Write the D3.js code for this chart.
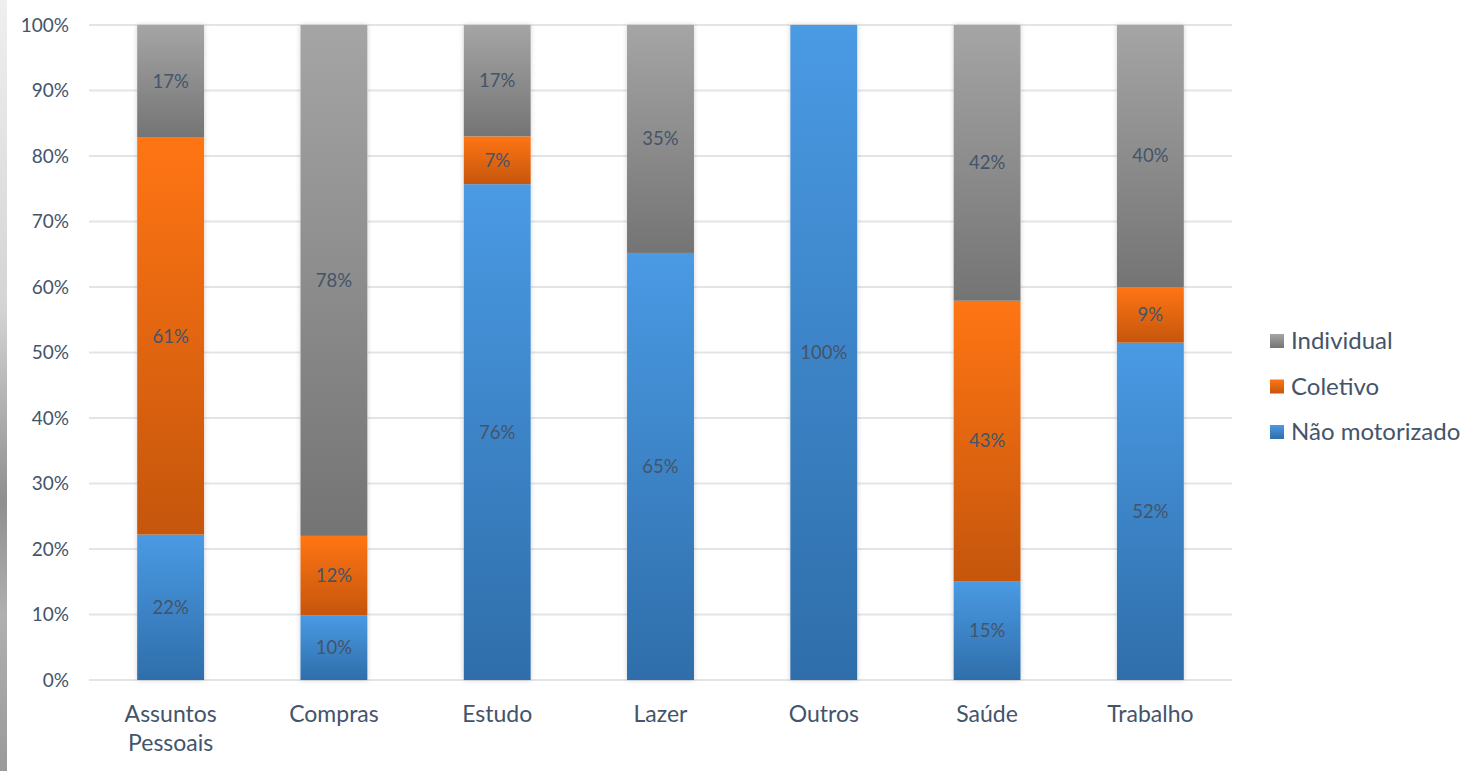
<!DOCTYPE html>
<html>
<head>
<meta charset="utf-8">
<script src="https://cdn.jsdelivr.net/npm/d3@7"></script>
<style>
  body { margin: 0; background: #fff; overflow: hidden; }
  text { font-family: Lato, "Open Sans", sans-serif; fill: #44546a; }
  .axis path { display: none; }
  .axis line { display: none; }
  .grid line { stroke: #e1e5ea; stroke-width: 2; }
</style>
</head>
<body>
<svg id="chart"></svg>
<script>
var categories = ["Assuntos Pessoais", "Compras", "Estudo", "Lazer", "Outros", "Saúde", "Trabalho"]
var naoMotorizado = [22.2, 9.9, 75.7, 65.2, 100, 15.1, 51.5]
var coletivo = [60.6, 12.1, 7.3, 0, 0, 42.8, 8.5]
var individual = [17.2, 78.0, 17.0, 34.8, 0, 42.1, 40.0]
var yTicks = [0, 10, 20, 30, 40, 50, 60, 70, 80, 90, 100]

var series = [
  { key: "nao", name: "Não motorizado", values: naoMotorizado, top: "#4a9ae4", bottom: "#2f6eaa" },
  { key: "col", name: "Coletivo", values: coletivo, top: "#ff7514", bottom: "#c5560c" },
  { key: "ind", name: "Individual", values: individual, top: "#a5a5a5", bottom: "#747474" }
]

var width = 1484
var height = 771
var margin = { top: 25, right: 252, bottom: 91, left: 89 }
var plotW = width - margin.left - margin.right
var plotH = height - margin.top - margin.bottom

var svg = d3.select("#chart")
  .attr("width", width)
  .attr("height", height)

var defs = svg.append("defs")

// strip of the photo behind the slide, on the left
var strip = defs.append("linearGradient")
  .attr("id", "strip").attr("x1", 0).attr("y1", 0).attr("x2", 0).attr("y2", 1)
strip.append("stop").attr("offset", "0%").attr("stop-color", "#efefef")
strip.append("stop").attr("offset", "40%").attr("stop-color", "#d4d4d4")
strip.append("stop").attr("offset", "65%").attr("stop-color", "#8f8f8f")
strip.append("stop").attr("offset", "80%").attr("stop-color", "#b0b0b0")
strip.append("stop").attr("offset", "100%").attr("stop-color", "#9a9a9a")
svg.append("rect").attr("width", 7).attr("height", height).attr("fill", "url(#strip)")

series.forEach(function(s) {
  var g = defs.append("linearGradient")
    .attr("id", "grad-" + s.key)
    .attr("x1", 0).attr("y1", 0).attr("x2", 0).attr("y2", 1)
  g.append("stop").attr("offset", "0%").attr("stop-color", s.top)
  g.append("stop").attr("offset", "100%").attr("stop-color", s.bottom)
})

var shadow = defs.append("filter").attr("id", "shadow")
  .attr("x", "-20%").attr("y", "-5%").attr("width", "140%").attr("height", "110%")
shadow.append("feDropShadow")
  .attr("dx", 0).attr("dy", 0).attr("stdDeviation", 2.5)
  .attr("flood-color", "#000").attr("flood-opacity", 0.18)

var x = d3.scaleBand()
  .domain(categories)
  .range([0, plotW])
  .paddingInner(0.59)
  .paddingOuter(0.295)

var y = d3.scaleLinear()
  .domain([0, 100])
  .range([plotH, 0])

var g = svg.append("g")
  .attr("transform", "translate(" + margin.left + "," + margin.top + ")")

g.append("g")
  .attr("class", "grid")
  .selectAll("line")
  .data(yTicks)
  .enter().append("line")
  .attr("x1", 0)
  .attr("x2", plotW)
  .attr("y1", function(d) { return y(d) })
  .attr("y2", function(d) { return y(d) })

g.append("g")
  .attr("class", "axis y")
  .call(d3.axisLeft(y).tickValues(yTicks).tickSize(0).tickPadding(20).tickFormat(function(d) { return d + "%" }))
  .selectAll("text")
  .style("font-size", "19px")
  .attr("fill", "#44546a")

var xAxis = g.append("g")
  .attr("class", "axis x")
  .attr("transform", "translate(0," + plotH + ")")
  .call(d3.axisBottom(x).tickSize(0).tickPadding(0).tickFormat(""))

xAxis.selectAll(".tick").each(function(d) {
  var t = d3.select(this).append("text")
    .attr("text-anchor", "middle")
    .attr("fill", "#44546a")
    .style("font-size", "23px")
  var words = d.split(" ")
  words.forEach(function(w, i) {
    t.append("tspan").attr("x", 0).attr("y", 42 + i * 29).text(w)
  })
})

var stack = d3.stack().keys(series.map(function(s) { return s.key }))
var rows = categories.map(function(c, i) {
  var r = { cat: c }
  series.forEach(function(s) { r[s.key] = s.values[i] })
  return r
})
var stacked = stack(rows)

var bars = g.append("g").attr("class", "bars")

// shadow behind each bar
bars.selectAll(".bar-bg")
  .data(rows)
  .enter().append("rect")
  .attr("class", "bar-bg")
  .attr("x", function(d) { return x(d.cat) })
  .attr("width", x.bandwidth())
  .attr("y", function(d) { return y(d.nao + d.col + d.ind) })
  .attr("height", function(d) { return y(0) - y(d.nao + d.col + d.ind) })
  .attr("fill", "#fff")
  .attr("filter", "url(#shadow)")

stacked.forEach(function(layer, li) {
  var s = series[li]
  bars.selectAll(".seg-" + s.key)
    .data(layer.filter(function(d) { return d[1] - d[0] > 0 }))
    .enter().append("rect")
    .attr("class", "seg-" + s.key)
    .attr("x", function(d) { return x(d.data.cat) })
    .attr("width", x.bandwidth())
    .attr("y", function(d) { return y(d[1]) })
    .attr("height", function(d) { return y(d[0]) - y(d[1]) })
    .attr("fill", "url(#grad-" + s.key + ")")

  bars.selectAll(".lab-" + s.key)
    .data(layer.filter(function(d) { return d[1] - d[0] > 0 }))
    .enter().append("text")
    .attr("class", "lab-" + s.key)
    .attr("x", function(d) { return x(d.data.cat) + x.bandwidth() / 2 })
    .attr("y", function(d) { return (y(d[0]) + y(d[1])) / 2 })
    .attr("dy", "0.35em")
    .attr("text-anchor", "middle")
    .style("font-size", "18.5px")
    .text(function(d) { return Math.round(d[1] - d[0]) + "%" })
})

var legendItems = series.slice().reverse()
var legend = svg.append("g")
  .attr("transform", "translate(1270,341)")
  .selectAll("g")
  .data(legendItems)
  .enter().append("g")
  .attr("transform", function(d, i) { return "translate(0," + (i * 45.5) + ")" })

legend.append("rect")
  .attr("x", 0)
  .attr("y", -7)
  .attr("width", 14)
  .attr("height", 14)
  .attr("fill", function(d) { return "url(#grad-" + d.key + ")" })

legend.append("text")
  .attr("x", 21)
  .attr("y", 0)
  .attr("dy", "0.35em")
  .style("font-size", "24px")
  .text(function(d) { return d.name })
</script>
</body>
</html>
